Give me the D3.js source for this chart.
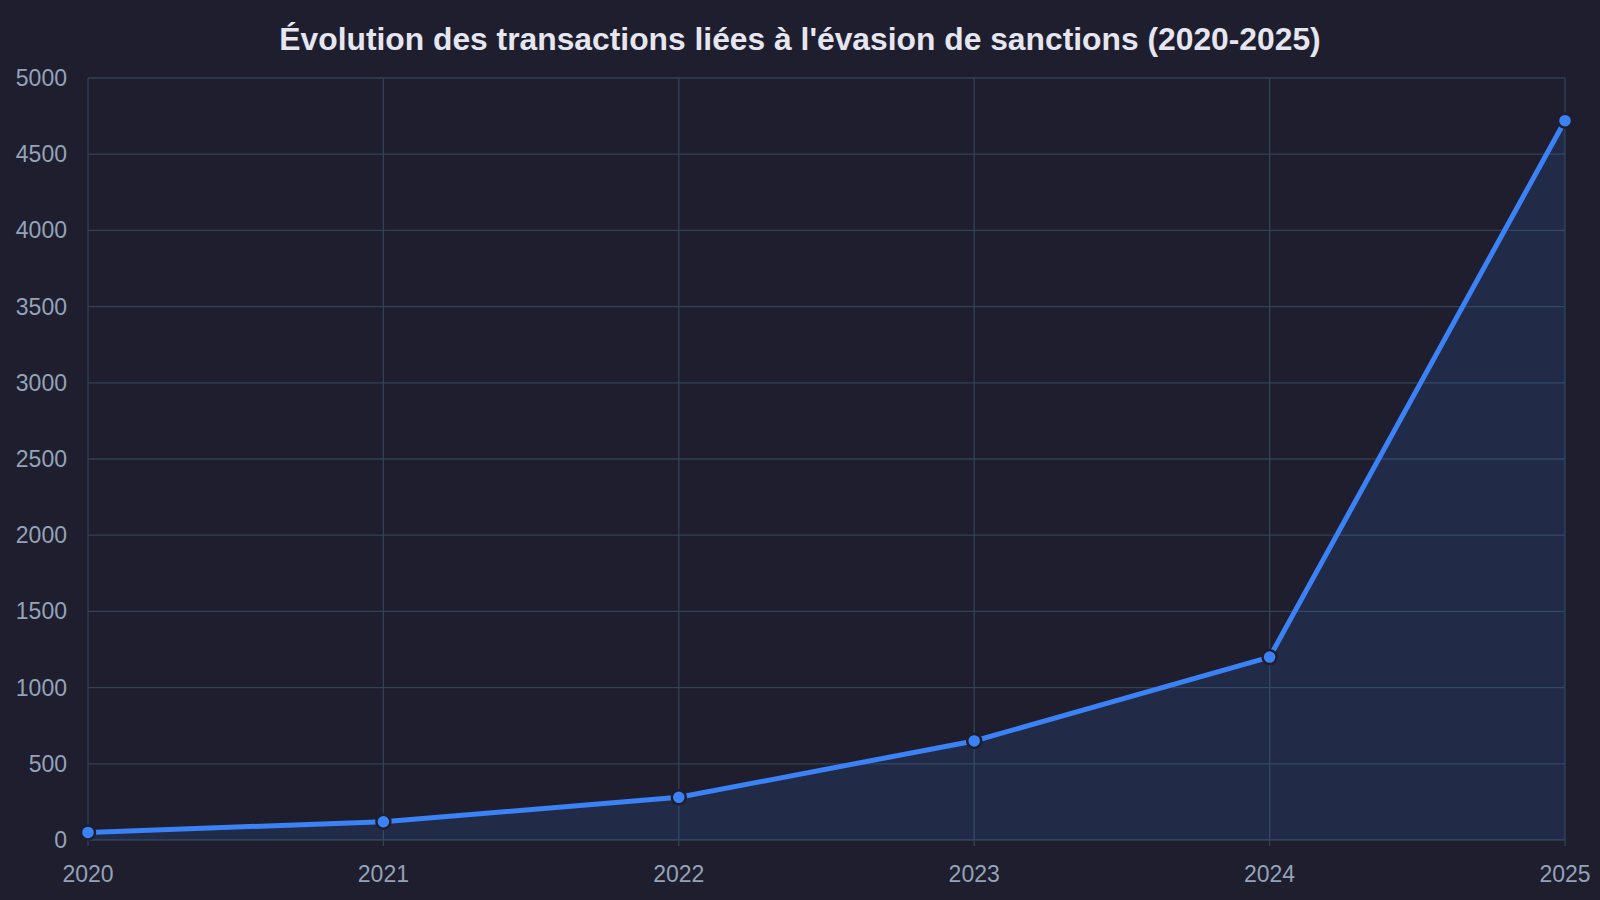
<!DOCTYPE html>
<html><head><meta charset="utf-8">
<script src="https://cdn.jsdelivr.net/npm/d3@7"></script>
<style>body{margin:0;background:#1e1e2e;}svg{display:block;}</style>
</head><body>
<svg id="c" width="1600" height="900"></svg>
<script>
const years = [2020, 2021, 2022, 2023, 2024, 2025];
const values = [50, 120, 280, 650, 1200, 4720];
const yTicks = [0,500,1000,1500,2000,2500,3000,3500,4000,4500,5000];
const title = "Évolution des transactions liées à l'évasion de sanctions (2020-2025)";

const svg = d3.select("#c");
const m = {l:88, r:35, t:78, b:60};
const W = 1600, H = 900;
const x = d3.scaleLinear().domain([2020,2025]).range([m.l, W-m.r]);
const y = d3.scaleLinear().domain([0,5000]).range([H-m.b, m.t]);
const font = "Liberation Sans, Arial, sans-serif";

svg.append("text").attr("x", 800).attr("y", 50).attr("text-anchor","middle")
  .attr("fill","#e6e6f0").attr("font-family",font).attr("font-size",31.8).attr("font-weight","bold").text(title);

const g = svg.append("g");
g.selectAll(".hy").data(yTicks).join("line").attr("x1",m.l).attr("x2",W-m.r)
  .attr("y1",d=>y(d)).attr("y2",d=>y(d)).attr("stroke","#334155").attr("stroke-width",1.3);
g.selectAll(".vx").data(years).join("line").attr("y1",m.t).attr("y2",H-m.b+6)
  .attr("x1",d=>x(d)).attr("x2",d=>x(d)).attr("stroke","#334155").attr("stroke-width",1.3);

g.selectAll(".yl").data(yTicks).join("text").attr("x",m.l-21).attr("y",d=>y(d)+8)
  .attr("text-anchor","end").attr("fill","#94a3b8").attr("font-family",font).attr("font-size",23).text(d=>d);
g.selectAll(".xl").data(years).join("text").attr("x",d=>x(d)).attr("y",H-m.b+42)
  .attr("text-anchor","middle").attr("fill","#94a3b8").attr("font-family",font).attr("font-size",23).text(d=>d);

const pts = years.map((d,i)=>[d, values[i]]);
g.append("path").datum(pts).attr("fill","rgba(59,130,246,0.12)")
  .attr("d", d3.area().x(d=>x(d[0])).y0(y(0)).y1(d=>y(d[1])));
g.append("path").datum(pts).attr("fill","none").attr("stroke","#3b82f6").attr("stroke-width",5)
  .attr("d", d3.line().x(d=>x(d[0])).y(d=>y(d[1])));
g.selectAll(".pt").data(pts).join("circle").attr("cx",d=>x(d[0])).attr("cy",d=>y(d[1])).attr("r",7)
  .attr("fill","#3b82f6").attr("stroke","#1e1e2e").attr("stroke-width",2.5);
</script>
</body></html>
